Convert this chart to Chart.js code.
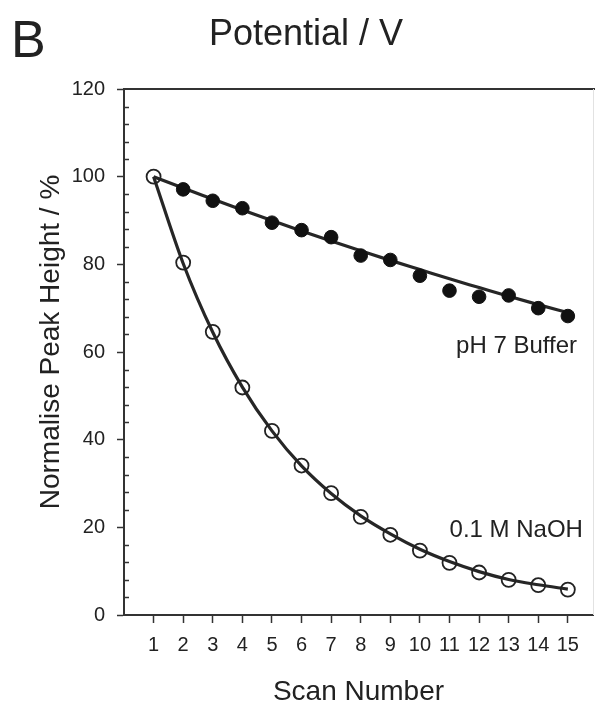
<!DOCTYPE html>
<html>
<head>
<meta charset="utf-8">
<script src="https://cdn.jsdelivr.net/npm/chart.js@4/dist/chart.umd.min.js"></script>
<style>
  body { margin: 0; background: #fff; }
  canvas { display: block; }
</style>
</head>
<body>
<canvas id="myChart" width="595" height="707"></canvas>
<script>
// Data
const scanNumbers = [1, 2, 3, 4, 5, 6, 7, 8, 9, 10, 11, 12, 13, 14, 15];
const bufferPoints = [100, 97.1, 94.5, 92.8, 89.5, 87.8, 86.2, 82.0, 81.0, 77.4, 74.0, 72.6, 72.9, 70.0, 68.2];
const bufferFit = [100, 97.4, 94.9, 92.4, 90.0, 87.6, 85.3, 83.1, 80.9, 78.8, 76.7, 74.7, 72.7, 70.8, 69.0];
const naohPoints = [100, 80.4, 64.6, 51.9, 42.0, 34.1, 27.8, 22.4, 18.3, 14.7, 11.9, 9.7, 8.0, 6.8, 5.8];
const naohFit = [100, 80.2, 64.5, 52.0, 42.0, 34.0, 27.7, 22.6, 18.5, 15.0, 12.2, 9.9, 8.1, 6.9, 5.9];

const FONT = "'Liberation Sans', Arial, sans-serif";
const INK = '#222';

function toXY(values) {
  return values.map((v, i) => ({ x: scanNumbers[i], y: v }));
}

// Extra drawing: panel letter, title, y title, curve labels, frame, minor ticks
const decorations = {
  id: 'decorations',
  afterDraw(chart) {
    const c = chart.ctx;
    const area = chart.chartArea;
    const xs = chart.scales.x, ys = chart.scales.y;
    c.save();
    c.fillStyle = INK;

    // frame: top line and faint right line
    c.strokeStyle = '#333';
    c.lineWidth = 2;
    c.beginPath();
    c.moveTo(area.left, area.top);
    c.lineTo(chart.width, area.top);
    c.stroke();
    c.strokeStyle = '#e2e2e2';
    c.lineWidth = 1;
    c.beginPath();
    c.moveTo(area.right + 0.5, area.top);
    c.lineTo(area.right + 0.5, area.bottom);
    c.stroke();

    // minor ticks on y axis, inward
    c.strokeStyle = '#333';
    c.lineWidth = 1.5;
    for (let v = 4; v < 120; v += 4) {
      if (v % 20 === 0) continue;
      const py = Math.round(ys.getPixelForValue(v)) + 0.5;
      c.beginPath();
      c.moveTo(area.left, py);
      c.lineTo(area.left + 5, py);
      c.stroke();
    }

    // panel letter and title
    c.textBaseline = 'alphabetic';
    c.textAlign = 'left';
    c.font = '52px ' + FONT;
    c.fillText('B', 11, 57);
    c.textAlign = 'center';
    c.font = '36px ' + FONT;
    c.fillText('Potential / V', 306, 45);

    // y axis title
    c.save();
    c.translate(51, 342);
    c.rotate(-Math.PI / 2);
    c.textBaseline = 'middle';
    c.font = '28px ' + FONT;
    c.fillText('Normalise Peak Height / %', 0, 0);
    c.restore();

    // curve labels
    c.textAlign = 'right';
    c.textBaseline = 'alphabetic';
    c.font = '24px ' + FONT;
    c.fillText('pH 7 Buffer', xs.getPixelForValue(15.31), ys.getPixelForValue(59.8));
    c.fillText('0.1 M NaOH', xs.getPixelForValue(15.51), ys.getPixelForValue(17.8));
    c.restore();
  }
};

const ctx = document.getElementById('myChart');
const myChart = new Chart(ctx, {
  type: 'line',
  data: {
    datasets: [
      {
        label: 'pH 7 Buffer',
        data: toXY(bufferPoints),
        showLine: false,
        // first point sits under the open NaOH circle at scan 1
        pointRadius: scanNumbers.map(n => n === 1 ? 0 : 6.8),
        pointBackgroundColor: '#111',
        pointBorderColor: '#111',
        pointBorderWidth: 1,
        order: 0
      },
      {
        label: '0.1 M NaOH',
        data: toXY(naohPoints),
        showLine: false,
        pointRadius: 7,
        pointBackgroundColor: 'rgba(0,0,0,0)',
        pointBorderColor: '#222',
        pointBorderWidth: 1.8,
        order: 0
      },
      {
        label: 'buffer fit',
        data: toXY(bufferFit),
        borderColor: '#262626',
        borderWidth: 3.2,
        pointRadius: 0,
        cubicInterpolationMode: 'monotone',
        order: 1
      },
      {
        label: 'NaOH fit',
        data: toXY(naohFit),
        borderColor: '#262626',
        borderWidth: 3.2,
        pointRadius: 0,
        cubicInterpolationMode: 'monotone',
        order: 1
      }
    ]
  },
  options: {
    responsive: false,
    animation: false,
    layout: { autoPadding: false, padding: { left: 0, right: 2, top: 89, bottom: 0 } },
    plugins: {
      legend: { display: false },
      tooltip: { enabled: false }
    },
    scales: {
      x: {
        type: 'linear',
        min: 0,
        max: 15.85,
        afterFit(scale) {
          scale.height = 92;
          scale.paddingLeft = 0;
          scale.paddingRight = 0;
        },
        afterBuildTicks(scale) {
          scale.ticks = scanNumbers.map(n => ({ value: n }));
        },
        ticks: {
          padding: 10,
          color: INK,
          font: { family: FONT, size: 20 },
          maxRotation: 0,
          autoSkip: false
        },
        grid: {
          drawOnChartArea: false,
          tickLength: 8,
          tickWidth: 1.5,
          tickColor: '#333'
        },
        border: { display: true, color: '#333', width: 2 },
        title: {
          display: true,
          text: 'Scan Number',
          color: INK,
          font: { family: FONT, size: 28 },
          padding: { top: 0, bottom: -2 }
        }
      },
      y: {
        min: 0,
        max: 120,
        afterFit(scale) { scale.width = 124; },
        ticks: {
          stepSize: 20,
          padding: 12,
          color: INK,
          font: { family: FONT, size: 20 }
        },
        grid: {
          drawOnChartArea: false,
          tickLength: 7,
          tickWidth: 1.5,
          tickColor: '#333'
        },
        border: { display: true, color: '#333', width: 2 }
      }
    }
  },
  plugins: [decorations]
});
</script>
</body>
</html>
